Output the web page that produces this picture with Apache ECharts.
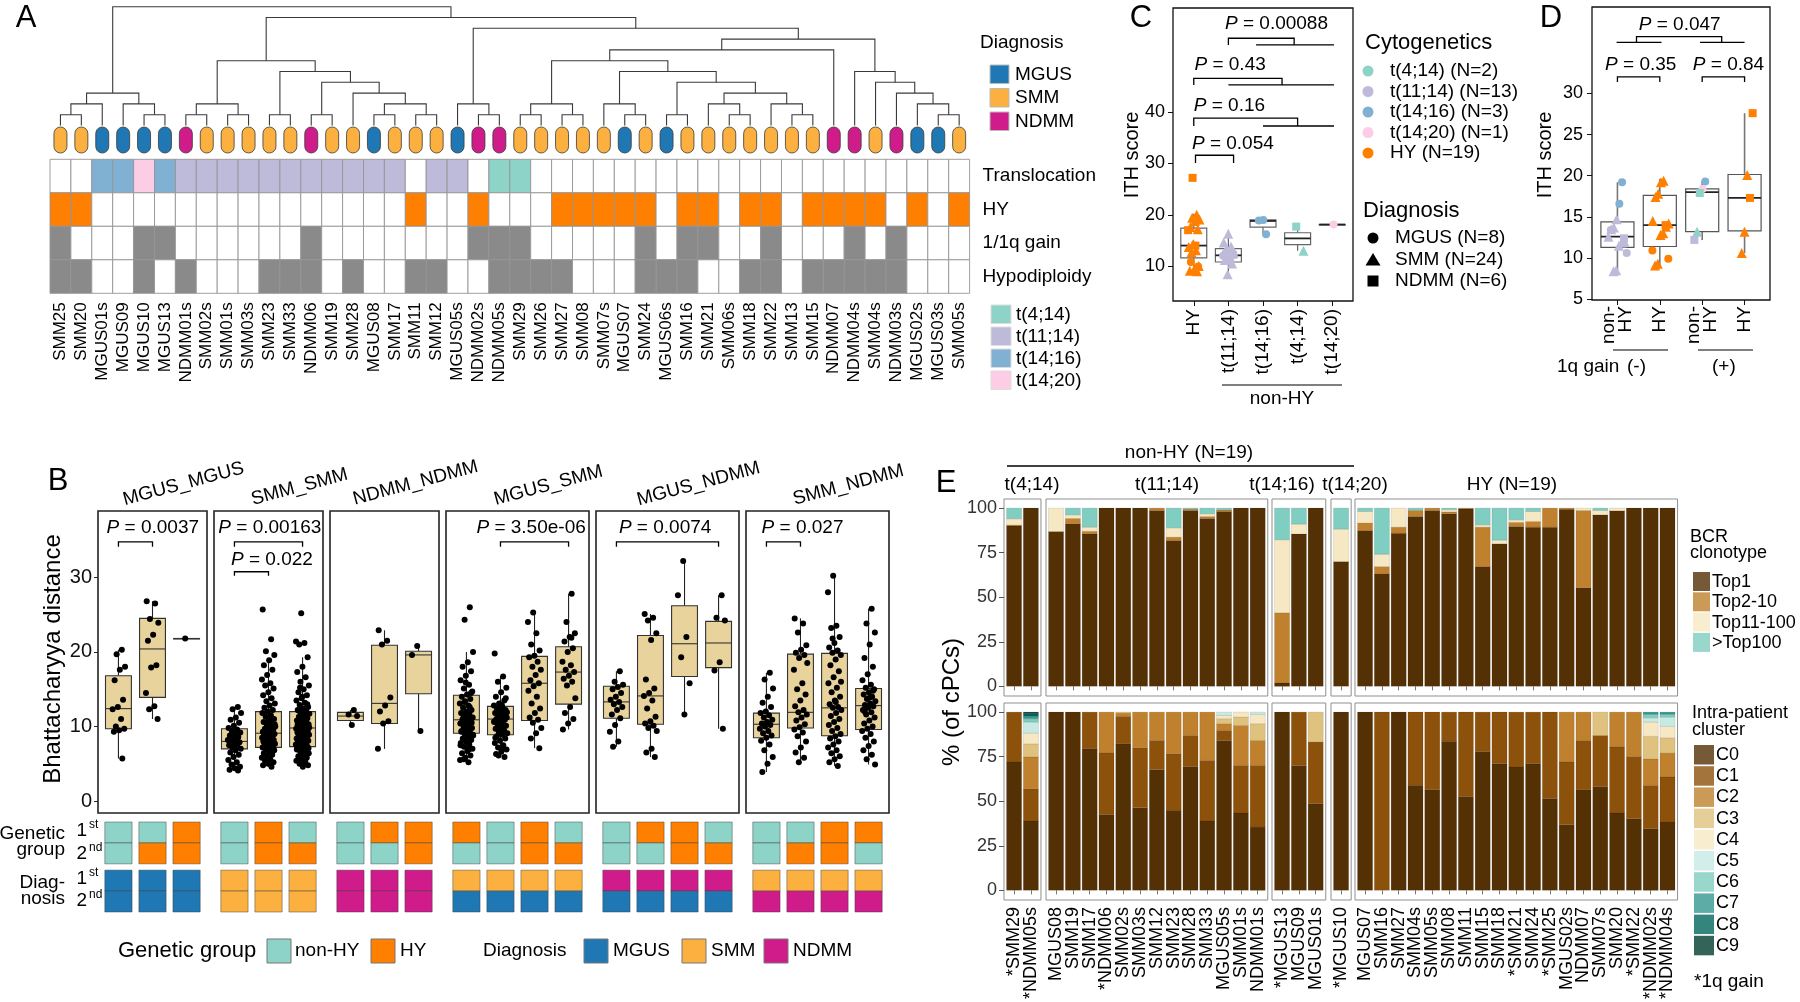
<!DOCTYPE html>
<html>
<head>
<meta charset="utf-8">
<title>Figure</title>
<script src="https://cdn.jsdelivr.net/npm/echarts@6.0.0/dist/echarts.min.js"></script>
<style>
html,body{margin:0;padding:0;background:#ffffff;}
#chart{width:1800px;height:1002px;}
</style>
</head>
<body>
<div id="chart"></div>
<script>
// ======================= DATA =======================
// ---- Panel A ----
const aSamples = ['SMM25','SMM20','MGUS01s','MGUS09','MGUS10','MGUS13','NDMM01s','SMM02s','SMM01s','SMM03s','SMM23','SMM33','NDMM06','SMM19','SMM28','MGUS08','SMM17','SMM11','SMM12','MGUS05s','NDMM02s','NDMM05s','SMM29','SMM26','SMM27','SMM08','SMM07s','MGUS07','SMM24','MGUS06s','SMM16','SMM21','SMM06s','SMM18','SMM22','SMM13','SMM15','NDMM07','NDMM04s','SMM04s','NDMM03s','MGUS02s','MGUS03s','SMM05s'];
const aDiagnosis = ['SMM','SMM','MGUS','MGUS','MGUS','MGUS','NDMM','SMM','SMM','SMM','SMM','SMM','NDMM','SMM','SMM','MGUS','SMM','SMM','SMM','MGUS','NDMM','NDMM','SMM','SMM','SMM','SMM','SMM','MGUS','SMM','MGUS','SMM','SMM','SMM','SMM','SMM','SMM','SMM','NDMM','NDMM','SMM','NDMM','MGUS','MGUS','SMM'];
// 0 none, 1 t(4;14), 2 t(11;14), 3 t(14;16), 4 t(14;20)
const aTranslocation = [0,0,3,3,4,3,2,2,2,2,2,2,2,2,2,2,2,0,2,2,0,1,1,0,0,0,0,0,0,0,0,0,0,0,0,0,0,0,0,0,0,0,0,0];
const aHY = [1,1,0,0,0,0,0,0,0,0,0,0,0,0,0,0,0,1,0,0,1,0,0,0,1,1,1,1,1,0,1,1,0,1,1,0,1,1,1,1,0,1,0,1];
const aGain1q = [1,0,0,0,1,1,0,0,0,0,0,0,1,0,0,0,0,0,0,0,1,1,1,0,0,0,0,0,1,0,1,1,0,0,1,0,0,0,1,0,1,0,0,0];
const aHypodiploidy = [1,1,0,0,1,0,1,0,0,0,1,1,1,0,1,0,0,1,1,0,0,1,1,1,1,0,0,0,1,1,1,0,0,1,1,0,1,1,1,1,1,0,0,0];
const aRowLabels = ['Translocation','HY','1/1q gain','Hypodiploidy'];
const aTransLabels = ['t(4;14)','t(11;14)','t(14;16)','t(14;20)'];
const aMerge = [[-1,-2],[1,-3],[-5,-6],[-4,3],[2,4],
 [-7,-8],[-9,-10],[6,7],[-11,-12],[-13,-14],[-16,-17],[-18,-19],[11,12],[-15,13],[10,14],[9,15],[8,16],
 [-21,-22],[-20,18],
 [-23,-24],[-25,-26],[20,21],[-28,-29],[-27,23],[-30,-31],[-33,-34],[-32,26],[-36,-37],[-35,28],[27,29],[25,30],[24,31],[22,32],[33,-38],
 [-43,-44],[-42,35],[-41,36],[-40,37],[-39,38],
 [34,39],[19,40],[17,41],[5,42]];
const aMergeHeight = [1,2,1,2,3, 1,1,2,1,1,1,1,2,3,4,5,6, 1,2, 1,1,2,1,2,1,1,2,1,2,3,4,5,6,7, 1,2,3,4,5, 8,9,10,11];

// ---- Panel C ----
const cCategories = ['HY','t(11;14)','t(14;16)','t(4;14)','t(14;20)'];
const cBoxStats = [[9.0,11.6,14.0,17.4,20.2],[8.4,10.8,12.1,13.4,16.3],[16.2,17.6,18.8,19.0,19.0],[13.0,14.2,15.4,16.5,17.7],[18.1,18.1,18.1,18.1,18.1]];
const cPoints = [
 [0,20.0,'SMM'],[0,19.4,'SMM'],[0,19.1,'SMM'],[0,18.8,'SMM'],[0,17.6,'SMM'],[0,17.2,'SMM'],[0,14.3,'SMM'],[0,13.7,'SMM'],[0,13.1,'SMM'],[0,12.7,'SMM'],[0,10.0,'SMM'],[0,9.4,'SMM'],[0,9.1,'SMM'],[0,9.0,'SMM'],[0,27.2,'NDMM'],[0,17.0,'NDMM'],[0,14.0,'NDMM'],[0,10.8,'MGUS'],[0,9.9,'MGUS'],
 [1,16.3,'SMM'],[1,14.6,'SMM'],[1,13.8,'SMM'],[1,13.4,'SMM'],[1,12.6,'SMM'],[1,11.8,'SMM'],[1,11.2,'SMM'],[1,10.5,'SMM'],[1,8.4,'SMM'],[1,12.0,'MGUS'],[1,10.9,'MGUS'],[1,12.3,'NDMM'],[1,12.2,'NDMM'],
 [2,19.0,'MGUS'],[2,18.9,'MGUS'],[2,16.2,'MGUS'],
 [3,17.7,'NDMM'],[3,13.0,'SMM'],
 [4,18.1,'MGUS']];
const cSignif = [
 {label:'0.054', x1:1.05, x2:2.15, top:31.6, leg:30.1, lows:[], tx:2.13, ty:33.8},
 {label:'0.16', x1:1, x2:4, top:38.85, leg:37.3, lows:[[3,5.05]], tx:2.03, ty:41.2},
 {label:'0.43', x1:1, x2:3.55, top:46.6, leg:45.3, lows:[[2,5.05]], tx:2.05, ty:49.2},
 {label:'0.00088', x1:2, x2:3.9, top:54.4, leg:53.1, lows:[[2.8,5.05]], tx:3.39, ty:57.2}];
const cLegendCyto = ['t(4;14) (N=2)','t(11;14) (N=13)','t(14;16) (N=3)','t(14;20) (N=1)','HY (N=19)'];
const cLegendDiag = ['MGUS (N=8)','SMM (N=24)','NDMM (N=6)'];

// ---- Panel D ----
const dCategories = ['non-\nHY','HY','non-\nHY','HY'];
const dBoxStats = [[8.4,11.3,12.6,14.4,19.2],[9.1,11.4,14.0,17.6,19.6],[12.2,13.2,18.0,18.4,19.3],[10.6,13.3,17.3,20.15,27.6]];
const dPoints = [
 [0,19.2,'t(14;16)','MGUS'],[0,16.6,'t(14;16)','MGUS'],[0,14.7,'t(11;14)','SMM'],[0,13.7,'t(11;14)','SMM'],[0,13.5,'t(11;14)','SMM'],[0,12.6,'t(11;14)','SMM'],[0,12.0,'t(11;14)','SMM'],[0,11.9,'t(11;14)','SMM'],[0,11.5,'t(11;14)','SMM'],[0,8.5,'t(11;14)','SMM'],[0,8.4,'t(11;14)','SMM'],[0,13.4,'t(11;14)','MGUS'],[0,10.6,'t(11;14)','MGUS'],[0,12.4,'t(11;14)','NDMM'],
 [1,19.4,'HY','SMM'],[1,19.2,'HY','SMM'],[1,17.8,'HY','SMM'],[1,17.4,'HY','SMM'],[1,14.5,'HY','SMM'],[1,14.2,'HY','SMM'],[1,13.8,'HY','SMM'],[1,13.0,'HY','SMM'],[1,12.8,'HY','SMM'],[1,9.3,'HY','SMM'],[1,9.1,'HY','SMM'],[1,10.9,'HY','MGUS'],[1,9.9,'HY','MGUS'],[1,14.0,'HY','NDMM'],
 [2,19.3,'t(14;16)','MGUS'],[2,18.4,'t(14;20)','MGUS'],[2,17.9,'t(4;14)','NDMM'],[2,13.2,'t(4;14)','SMM'],[2,12.2,'t(11;14)','NDMM'],
 [3,27.6,'HY','NDMM'],[3,17.3,'HY','NDMM'],[3,20.1,'HY','SMM'],[3,13.2,'HY','SMM'],[3,10.6,'HY','SMM']];
const dSignif = [
 {label:'0.35', x1:1, x2:2, top:32.0, leg:31.4, lows:[], tx:1.55, ty:33.5},
 {label:'0.84', x1:3, x2:4, top:32.0, leg:31.4, lows:[], tx:3.62, ty:33.5},
 {label:'0.047', x1:1.45, x2:3.46, top:36.9, leg:36.2, lows:[[0.98,2.04],[2.95,4.0]], tx:2.47, ty:38.3}];

// ---- Panel B ----
const bFacets = ['MGUS_MGUS','SMM_SMM','NDMM_NDMM','MGUS_SMM','MGUS_NDMM','SMM_NDMM'];
const bBoxStats = [
 [[5.7,9.7,12.4,16.8,20.3],[11.0,13.9,20.4,24.5,26.8],[21.8,21.8,21.8,21.8,21.8]],
 [[4.1,7.0,8.0,9.7,12.6],[4.6,7.2,9.1,12.0,18.9],[4.6,7.3,9.8,12.0,19.3]],
 [[10.2,10.8,11.4,11.9,12.2],[7.0,10.4,13.1,20.9,22.9],[9.4,14.4,19.6,20.1,20.8]],
 [[5.1,9.1,10.9,14.2,20.0],[5.9,8.9,11.0,12.7,16.7],[7.1,10.8,15.8,19.4,25.3],[9.6,13.0,17.3,20.7,27.8]],
 [[7.3,11.1,13.3,15.4,17.4],[5.9,10.3,14.1,22.2,25.1],[11.6,16.7,21.1,26.2,32.2],[9.7,17.9,21.2,24.1,27.6]],
 [[3.9,8.5,10.3,11.8,17.2],[5.2,9.8,11.9,19.7,24.5],[4.7,8.75,12.5,19.8,30.2],[4.9,9.6,12.8,15.1,25.8]]];
const bPoints = [
 [[20.3,19.7,18.0,17.6,16.2,13.6,12.6,12.3,11.0,10.0,9.7,9.5,9.3,5.7],
  [26.8,26.5,24.4,23.9,22.3,21.5,18.2,17.9,14.5,12.7,12.3,11.0],
  [21.8]],
 [[12.6,12.3,11.8,11.2,10.9,10.5,10.1,9.8,9.6,9.4,9.2,9.0,8.8,8.6,8.4,8.2,8.1,8.0,7.9,7.7,7.5,7.3,7.2,7.0,6.8,6.5,6.2,5.9,5.5,5.2,4.9,4.6,4.4,4.2,4.1,8.5],
  [25.7,21.7,20.1,19.6,18.9,18.2,17.6,16.9,16.3,15.8,15.5,15.1,14.6,14.2,13.8,13.4,13.1,12.8,12.5,12.2,12.0,11.8,11.5,11.3,11.0,10.8,10.6,10.4,10.2,10.0,9.9,9.7,9.6,9.4,9.3,9.2,9.1,9.0,8.9,8.8,8.7,8.6,8.5,8.4,8.3,8.2,8.1,8.0,7.9,7.8,7.7,7.6,7.5,7.4,7.3,7.2,7.1,7.0,6.8,6.6,6.4,6.2,6.0,5.8,5.6,5.4,5.2,5.0,4.8,4.6,9.5,10.3,11.1,8.95,7.25],
  [25.2,21.4,21.2,21.0,19.3,18.0,17.3,16.6,16.0,15.5,15.0,14.6,14.2,13.8,13.5,13.2,12.9,12.6,12.4,12.2,12.0,11.9,11.7,11.5,11.3,11.1,10.9,10.8,10.6,10.4,10.3,10.1,10.0,9.9,9.8,9.7,9.6,9.5,9.4,9.3,9.2,9.1,9.0,8.9,8.8,8.7,8.6,8.5,8.4,8.3,8.2,8.1,8.0,7.9,7.8,7.7,7.6,7.5,7.4,7.3,7.2,7.0,6.8,6.6,6.4,6.2,6.0,5.8,5.6,5.4,5.2,5.0,4.8,4.6,10.2,10.7,11.4,9.85,9.75,12.1,13.0,14.0,6.9,5.3,15.2,7.1]],
 [[12.2,11.6,11.4,10.2],
  [22.9,21.5,21.0,13.9,12.8,12.0,10.7,10.4,7.0],
  [20.8,19.6,9.4]],
 [[26.0,24.3,20.0,18.6,18.0,17.4,16.8,16.2,15.6,15.1,14.7,14.3,14.0,13.7,13.4,13.1,12.8,12.5,12.2,12.0,11.8,11.6,11.4,11.2,11.0,10.9,10.8,10.6,10.4,10.2,10.0,9.8,9.6,9.4,9.2,9.0,8.8,8.6,8.4,8.2,8.0,7.8,7.6,7.3,7.0,6.7,6.4,6.1,5.8,5.5,5.2,11.1,10.5,9.9,9.3,12.6,13.3,8.9,10.7,11.7,14.5,15.9,7.5,6.9,5.6],
  [19.8,16.7,16.0,15.2,14.6,14.0,13.5,13.1,12.8,12.6,12.4,12.2,12.0,11.8,11.6,11.4,11.2,11.1,11.0,10.9,10.8,10.7,10.5,10.3,10.1,9.9,9.7,9.5,9.3,9.1,8.9,8.7,8.4,8.1,7.8,7.5,7.2,6.9,6.6,6.3,5.9,11.5,10.6,10.0,12.3,13.8,9.2,8.5,7.0,6.1,11.9,12.9],
  [25.3,24.0,22.5,21.0,20.2,19.5,19.3,18.7,18.0,17.6,16.9,16.2,15.8,15.4,14.8,14.0,13.1,12.4,11.8,11.2,10.9,10.5,9.8,9.1,8.4,7.1],
  [27.8,24.0,22.5,22.0,21.4,20.5,20.0,18.7,18.2,17.6,17.3,16.8,16.4,16.0,15.5,13.8,12.6,11.8,11.0,10.4,9.6,21.9]],
 [[17.4,16.0,15.6,15.3,15.0,14.5,14.0,13.6,13.3,13.0,12.6,12.2,11.6,11.1,10.2,9.3,8.0,7.3],
  [25.1,24.6,24.2,22.5,21.6,16.3,15.1,14.5,14.1,13.5,12.4,11.3,10.7,10.4,10.1,9.8,9.4,7.0,6.5,5.9],
  [32.2,27.6,22.0,19.3,15.8,11.6],
  [27.6,24.6,24.2,18.6,17.5,9.7]],
 [[17.2,16.3,15.1,14.0,13.2,12.6,12.0,11.8,11.5,11.2,10.9,10.6,10.4,10.2,10.0,9.7,9.4,9.1,8.8,8.5,8.1,7.6,6.8,5.9,5.0,3.9],
  [24.5,23.8,22.6,20.9,20.3,19.9,19.6,19.2,17.6,15.8,15.0,14.3,13.5,12.7,12.2,11.9,11.6,11.2,10.8,10.3,9.9,9.6,9.2,8.7,8.0,7.2,6.5,5.8,5.2,18.5],
  [30.2,28.0,23.5,23.2,22.0,21.2,20.6,20.2,19.9,19.6,19.0,18.2,17.4,16.6,15.8,15.2,14.6,14.0,13.5,13.0,12.6,12.5,12.2,11.8,11.4,11.0,10.6,10.2,9.8,9.4,9.0,8.7,8.4,8.0,7.6,7.2,6.8,6.4,6.0,5.6,5.2,4.7,21.8,16.0,13.3],
  [25.8,23.8,22.6,21.0,19.2,18.0,17.0,16.2,15.6,15.2,15.0,14.6,14.3,14.0,13.7,13.4,13.1,12.9,12.7,12.5,12.2,11.9,11.6,11.2,10.8,10.4,10.0,9.7,9.4,9.0,8.5,8.0,7.4,6.8,6.2,5.6,4.9,13.9,12.0,14.8]]];
const bGenetic = [
 [['n','n'],['n','h'],['h','h']],
 [['n','n'],['h','h'],['n','h']],
 [['n','n'],['h','n'],['h','h']],
 [['h','n'],['n','n'],['h','h'],['n','h']],
 [['n','n'],['h','n'],['h','h'],['n','h']],
 [['n','n'],['n','h'],['h','h'],['h','n']]];
const bDiagPairs = [['MGUS','MGUS'],['SMM','SMM'],['NDMM','NDMM'],['SMM','MGUS'],['NDMM','MGUS'],['SMM','NDMM']];
const bSignif = [
 {f:0, label:'0.0037', x1:1, x2:2, top:34.75, leg:34.1, lows:[], tx:2.01, ty:36.7},
 {f:1, label:'0.00163', x1:1, x2:3, top:34.75, leg:34.1, lows:[], tx:2.04, ty:36.7},
 {f:1, label:'0.022', x1:1, x2:2, top:30.75, leg:30.2, lows:[], tx:2.1, ty:32.3},
 {f:3, label:'3.50e-06', x1:2, x2:4, top:34.75, leg:34.1, lows:[], tx:2.9, ty:36.7},
 {f:4, label:'0.0074', x1:1, x2:4, top:34.75, leg:34.1, lows:[], tx:2.43, ty:36.7},
 {f:5, label:'0.027', x1:1, x2:2, top:34.75, leg:34.1, lows:[], tx:2.06, ty:36.7}];

// ---- Panel E ----
const eGroups = ['t(4;14)','t(11;14)','t(14;16)','t(14;20)','HY (N=19)'];
const eSamples = [
 ['*SMM29','*NDMM05s'],
 ['MGUS08','SMM19','SMM17','*NDMM06','SMM02s','SMM03s','SMM12','SMM23','SMM28','SMM33','MGUS05s','SMM01s','NDMM01s'],
 ['*MGUS13','MGUS09','MGUS01s'],
 ['*MGUS10'],
 ['MGUS07','SMM16','SMM27','SMM04s','SMM05s','SMM08','SMM11','SMM15','SMM18','*SMM21','SMM24','*SMM25','MGUS02s','NDMM07','SMM07s','SMM20','*SMM22','*NDMM02s','*NDMM04s']];
// BCR clonotype % : [Top1, Top2-10, Top11-100, >Top100]
const eBcr = [
 [[90,0.5,3.5,6],[100,0,0,0]],
 [[86.9,0,13.1,0],[91.2,3,2,3.8],[85.5,1.5,2.3,10.7],[100,0,0,0],[100,0,0,0],[100,0,0,0],[98.7,1.3,0,0],[81.8,1.9,5.2,11.1],[98.7,0.7,0,0.6],[94.2,1.1,1.5,3.2],[98.1,0.9,0,1.0],[100,0,0,0],[100,0,0,0]],
 [[1.9,39.4,40.9,17.8],[85.5,0,5.5,9.0],[100,0,0,0]],
 [[70,0,18.2,11.8]],
 [[87.4,4.2,6.5,1.9],[63,4.2,6.9,25.9],[85.9,3.4,10.7,0],[95.3,3.4,0,1.3],[98.7,1.3,0,0],[96.8,1.1,1.2,0.9],[99.6,0.4,0,0],[67.2,22.1,1.3,9.4],[80,0,2,18],[89.7,2.3,1.4,6.6],[89.3,3.2,5.6,1.9],[89.3,10.7,0,0],[99.3,0.7,0,0],[55.3,43.4,1.3,0],[96.2,0,2.5,1.3],[98.5,0,1.5,0],[100,0,0,0],[100,0,0,0],[100,0,0,0]]];
// Intra-patient cluster % : [C0..C9]
const eCluster = [
 [[72,28],[38.9,18.1,17.8,7.4,6.0,6.2,1.9,1.3,1.5,0.9]],
 [[100],[100],[79.4,20.6],[42.6,34.4,23.0],[82.2,15.4,1.8,0.6],[46.4,33.6,20.0],[67.7,16.4,15.9],[44.9,31.7,23.4],[69.5,17.4,13.1],[38.9,34.0,27.1],[84.1,5.6,3.8,2.8,1.8,1.9],[43.4,26.7,22.4,4.7,2.8],[35.5,34.6,14.0,9.4,5.2,1.3]],
 [[100],[70.1,29.9],[48.6,34.6,0,16.8]],
 [[100]],
 [[100],[0,100],[100],[58.9,41.1],[56.4,43.6],[83.7,16.3],[52.7,47.3],[77.9,22.1],[71,29],[69.2,30.8],[71,29],[51.4,48.6],[37,35,28],[56.4,27.7,15.9],[58.3,28.6,0,13.1],[43.4,37,19.6],[40.2,34.9,24.9],[34.6,24.3,14.9,12.6,8,2.4,1.9,1.3],[38.3,25.3,13.4,8.6,6.4,5.2,1.5,1.3]]];
const eBcrLabels = ['Top1','Top2-10','Top11-100','>Top100'];
const eClusterLabels = ['C0','C1','C2','C3','C4','C5','C6','C7','C8','C9'];
const eTicks = [0,25,50,75,100];

// ======================= STYLE =======================
const FONT = '"Liberation Sans", Arial, Helvetica, sans-serif';
const DIAG_COL = {MGUS:'#1f78b4', SMM:'#fbb040', NDMM:'#d01c8b'};
const TRANS_COL = ['#ffffff','#8dd3c7','#bebada','#80b1d3','#fccde5'];
const HY_COL = '#ff7f00', GAIN_COL = '#8a8a8a';
const CYTO_COL = {'t(4;14)':'#8dd3c7','t(11;14)':'#bebada','t(14;16)':'#80b1d3','t(14;20)':'#fccde5','HY':'#ff7f00'};
const GEN_COL = {n:'#8dd3c7', h:'#ff7f00'};
const SYM = {MGUS:'circle', SMM:'triangle', NDMM:'rect'};
const SYM_SIZE = {MGUS:8, SMM:10, NDMM:8};
const BCR_COL = ['#543005','#bf812d','#f6e8c3','#80cdc1'];
const CLU_COL = ['#543005','#8c510a','#bf812d','#dfc27d','#f6e8c3','#c7eae5','#80cdc1','#35978f','#01665e','#003c30'];

// ======================= BUILD =======================
const grids = [], xAxes = [], yAxes = [], series = [], gfx = [];
function hiddenValue(min, max, extra) {
  return Object.assign({type:'value', min:min, max:max, axisLine:{show:false}, axisTick:{show:false}, axisLabel:{show:false}, splitLine:{show:false}}, extra || {});
}
function addGrid(rect, xa, ya) {
  const gi = grids.length;
  grids.push(Object.assign({containLabel:false, backgroundColor:'transparent'}, rect));
  xa.gridIndex = gi; ya.gridIndex = gi;
  xAxes.push(xa); yAxes.push(ya);
  return gi;
}
function range(n) { const r = []; for (let i = 1; i <= n; i++) r.push(i); return r; }
function jit(i, w) { return (((((i + 1) * 0.6180339887) + 0.13) % 1) - 0.5) * 2 * w; }

function makeBoxRender(boxes, hw, st) {
  return function (params, api) {
    const i = params.dataIndex, b = boxes[i], x = i + 1;
    const c = (xx, yy) => api.coord([xx, yy]);
    const tl = c(x - hw, b[3]), br = c(x + hw, b[1]);
    const m1 = c(x - hw, b[2]), m2 = c(x + hw, b[2]);
    const w1 = c(x, b[4]), w2 = c(x, b[3]), w3 = c(x, b[1]), w4 = c(x, b[0]);
    return {type:'group', children:[
      {type:'line', shape:{x1:w1[0], y1:w1[1], x2:w2[0], y2:w2[1]}, style:{stroke:st.whisker, lineWidth:st.wl}},
      {type:'line', shape:{x1:w3[0], y1:w3[1], x2:w4[0], y2:w4[1]}, style:{stroke:st.whisker, lineWidth:st.wl}},
      {type:'rect', shape:{x:tl[0], y:tl[1], width:br[0] - tl[0], height:Math.max(br[1] - tl[1], 0.5)}, style:{fill:st.fill, stroke:st.stroke, lineWidth:st.bl}},
      {type:'line', shape:{x1:m1[0], y1:m1[1], x2:m2[0], y2:m2[1]}, style:{stroke:st.median, lineWidth:st.ml}}
    ]};
  };
}
function makeSigRender(sigs, fs) {
  return function (params, api) {
    const s = sigs[params.dataIndex];
    const c = (x, y) => api.coord([x, y]);
    const kids = [{type:'polyline', shape:{points:[c(s.x1, s.leg), c(s.x1, s.top), c(s.x2, s.top), c(s.x2, s.leg)]}, style:{stroke:'#000', lineWidth:1.3, fill:'none'}}];
    s.lows.forEach(l => { const a = c(l[0], s.leg), b = c(l[1], s.leg); kids.push({type:'line', shape:{x1:a[0], y1:a[1], x2:b[0], y2:b[1]}, style:{stroke:'#000', lineWidth:1.3}}); });
    const t = c(s.tx, s.ty);
    kids.push({type:'text', x:t[0], y:t[1], style:{text:'{i|P} = ' + s.label, fontSize:fs, fontFamily:FONT, fill:'#000', align:'center', verticalAlign:'middle',
      rich:{i:{fontStyle:'italic', fontSize:fs, fontFamily:FONT, fill:'#000'}}}});
    return {type:'group', children:kids};
  };
}

// ---------------- Panel A ----------------
const nodeX = [];
aMerge.forEach((m, k) => { const xs = m.map(c => c < 0 ? -c : nodeX[c - 1]); nodeX.push((xs[0] + xs[1]) / 2); });
const gDen = addGrid({left:50, top:6.7, width:919.6, height:118.8}, hiddenValue(0.5, 44.5), hiddenValue(0, 11));
series.push({type:'custom', xAxisIndex:gDen, yAxisIndex:gDen, silent:true, data:aMerge.map((m, k) => [nodeX[k], aMergeHeight[k]]),
  renderItem: function (params, api) {
    const k = params.dataIndex, m = aMerge[k], h = aMergeHeight[k];
    const ch = m.map(c => c < 0 ? [-c, 0] : [nodeX[c - 1], aMergeHeight[c - 1]]);
    const pts = [api.coord(ch[0]), api.coord([ch[0][0], h]), api.coord([ch[1][0], h]), api.coord(ch[1])];
    return {type:'polyline', shape:{points:pts}, style:{stroke:'#3a3a3a', lineWidth:1.1, fill:'none'}};
  }});
const gPill = addGrid({left:50, top:127, width:919.6, height:26}, hiddenValue(0.5, 44.5), hiddenValue(0, 1));
series.push({type:'custom', xAxisIndex:gPill, yAxisIndex:gPill, silent:true, data:aDiagnosis.map((d, i) => [i + 1, 0.5]),
  renderItem: function (params, api) {
    const i = params.dataIndex, t = api.coord([i + 1, 1]), b = api.coord([i + 1, 0]);
    return {type:'rect', shape:{x:t[0] - 6.5, y:t[1], width:13, height:b[1] - t[1], r:6.5}, style:{fill:DIAG_COL[aDiagnosis[i]], stroke:'#3a3a3a', lineWidth:0.8}};
  }});
const heatCells = [];
aSamples.forEach((s, i) => { for (let r = 0; r < 4; r++) heatCells.push([i + 1, r]); });
function heatColor(i, r) {
  if (r === 0) return TRANS_COL[aTranslocation[i]];
  if (r === 1) return aHY[i] ? HY_COL : '#ffffff';
  if (r === 2) return aGain1q[i] ? GAIN_COL : '#ffffff';
  return aHypodiploidy[i] ? GAIN_COL : '#ffffff';
}
const gHeat = addGrid({left:50, top:159.3, width:919.6, height:134},
  {type:'value', min:0.5, max:44.5, axisLine:{show:false}, axisTick:{show:false}, splitLine:{show:false},
   axisLabel:{show:true, showMinLabel:true, showMaxLabel:true, hideOverlap:false, customValues:range(44), formatter:v => aSamples[Math.round(v) - 1], rotate:90, fontSize:17, margin:9, color:'#000', fontFamily:FONT}},
  {type:'value', min:0, max:4, inverse:true, position:'right', axisLine:{show:false}, axisTick:{show:false}, splitLine:{show:false},
   axisLabel:{show:true, showMinLabel:true, showMaxLabel:true, customValues:[0.5,1.5,2.5,3.5], formatter:v => aRowLabels[Math.floor(v)], fontSize:19, margin:13, color:'#000', fontFamily:FONT}});
series.push({type:'custom', xAxisIndex:gHeat, yAxisIndex:gHeat, silent:true, data:heatCells,
  renderItem: function (params, api) {
    const d = heatCells[params.dataIndex], i = d[0], r = d[1];
    const a = api.coord([i - 0.5, r]), b = api.coord([i + 0.5, r + 1]);
    return {type:'rect', shape:{x:a[0], y:a[1], width:b[0] - a[0], height:b[1] - a[1]}, style:{fill:heatColor(i - 1, r), stroke:'#959595', lineWidth:0.9}};
  }});

// ---------------- Panel C ----------------
const cCatColors = ['#ff7f00','#bebada','#80b1d3','#8dd3c7','#fccde5'];
const gC = addGrid({left:1173, top:8, width:180, height:293, show:true, borderColor:'#111', borderWidth:1.3},
  {type:'value', min:0.4, max:5.6, axisLine:{show:false}, splitLine:{show:false},
   axisTick:{show:true, customValues:range(5), length:5, lineStyle:{color:'#111'}},
   axisLabel:{show:true, showMinLabel:true, showMaxLabel:true, hideOverlap:false, customValues:range(5), formatter:v => cCategories[Math.round(v) - 1], rotate:90, fontSize:19, margin:8, color:'#000', fontFamily:FONT}},
  {type:'value', min:3.2, max:60.3, axisLine:{show:false}, splitLine:{show:false},
   axisTick:{show:true, customValues:[10,20,30,40], length:5, lineStyle:{color:'#111'}},
   axisLabel:{show:true, customValues:[10,20,30,40], fontSize:18, margin:8, color:'#000', fontFamily:FONT}});
series.push({type:'custom', xAxisIndex:gC, yAxisIndex:gC, silent:true, z:2, data:cBoxStats.map((b, i) => [i + 1, b[2]]),
  renderItem:makeBoxRender(cBoxStats, 0.375, {fill:'#ffffff', stroke:'#666', bl:1.2, whisker:'#666', wl:1.2, median:'#222', ml:1.8})});
series.push({type:'scatter', xAxisIndex:gC, yAxisIndex:gC, silent:true, z:3,
  data:cPoints.map((p, i) => ({value:[p[0] + 1 + jit(i, 0.17), p[1]], symbol:SYM[p[2]], symbolSize:SYM_SIZE[p[2]], itemStyle:{color:cCatColors[p[0]], opacity:1}}))});
series.push({type:'custom', xAxisIndex:gC, yAxisIndex:gC, silent:true, z:4, data:cSignif.map((s, i) => [s.tx, s.ty]), renderItem:makeSigRender(cSignif, 19)});

// ---------------- Panel D ----------------
const gD = addGrid({left:1592, top:7, width:178, height:293, show:true, borderColor:'#111', borderWidth:1.3},
  {type:'value', min:0.4, max:4.6, axisLine:{show:false}, splitLine:{show:false},
   axisTick:{show:true, customValues:range(4), length:5, lineStyle:{color:'#111'}},
   axisLabel:{show:true, showMinLabel:true, showMaxLabel:true, hideOverlap:false, customValues:range(4), formatter:v => dCategories[Math.round(v) - 1], rotate:90, fontSize:19, lineHeight:17, margin:6, color:'#000', fontFamily:FONT}},
  {type:'value', min:4.9, max:40.5, axisLine:{show:false}, splitLine:{show:false},
   axisTick:{show:true, customValues:[5,10,15,20,25,30], length:5, lineStyle:{color:'#111'}},
   axisLabel:{show:true, showMinLabel:true, customValues:[5,10,15,20,25,30], fontSize:18, margin:9, color:'#000', fontFamily:FONT}});
series.push({type:'custom', xAxisIndex:gD, yAxisIndex:gD, silent:true, z:2, data:dBoxStats.map((b, i) => [i + 1, b[2]]),
  renderItem:makeBoxRender(dBoxStats, 0.39, {fill:'#ffffff', stroke:'#555', bl:1.2, whisker:'#777', wl:1.6, median:'#222', ml:1.8})});
series.push({type:'scatter', xAxisIndex:gD, yAxisIndex:gD, silent:true, z:3,
  data:dPoints.map((p, i) => ({value:[p[0] + 1 + jit(i * 3, 0.22), p[1]], symbol:SYM[p[3]], symbolSize:SYM_SIZE[p[3]], itemStyle:{color:CYTO_COL[p[2]], opacity:1}}))});
series.push({type:'custom', xAxisIndex:gD, yAxisIndex:gD, silent:true, z:4, data:dSignif.map(s => [s.tx, s.ty]), renderItem:makeSigRender(dSignif, 19)});

// ---------------- Panel B ----------------
const bLeft = [98, 214, 330, 446, 596, 746];
const bWidth = [109, 109, 109, 143, 143, 143];
bFacets.forEach((name, f) => {
  const n = bBoxStats[f].length;
  const yax = f === 0 ?
    {type:'value', min:-1.6, max:38.9, axisLine:{show:false}, splitLine:{show:false},
     axisTick:{show:true, customValues:[0,10,20,30], length:4, lineStyle:{color:'#222'}},
     axisLabel:{show:true, showMinLabel:true, customValues:[0,10,20,30], fontSize:20, margin:6, color:'#111', fontFamily:FONT}} :
    hiddenValue(-1.6, 38.9);
  const g = addGrid({left:bLeft[f], top:511, width:bWidth[f], height:302, show:true, borderColor:'#222', borderWidth:1.6}, hiddenValue(0.4, n + 0.6), yax);
  series.push({type:'custom', xAxisIndex:g, yAxisIndex:g, silent:true, z:2, data:bBoxStats[f].map((b, i) => [i + 1, b[2]]),
    renderItem:makeBoxRender(bBoxStats[f], 0.38, {fill:'#e8d39c', stroke:'#333', bl:1.1, whisker:'#222', wl:1.1, median:'#333', ml:1.1})});
  const pts = [];
  bPoints[f].forEach((arr, c) => arr.forEach((v, i) => pts.push([c + 1 + jit(i + c * 7, 0.2), v])));
  series.push({type:'scatter', xAxisIndex:g, yAxisIndex:g, silent:true, z:3, symbol:'circle', symbolSize:6, itemStyle:{color:'#000', opacity:1}, data:pts});
  const sigs = bSignif.filter(s => s.f === f);
  if (sigs.length) series.push({type:'custom', xAxisIndex:g, yAxisIndex:g, silent:true, z:4, data:sigs.map(s => [s.tx, s.ty]), renderItem:makeSigRender(sigs, 19)});
  const ga = addGrid({left:bLeft[f], top:822, width:bWidth[f], height:90}, hiddenValue(0.4, n + 0.6), hiddenValue(0, 4.3, {inverse:true}));
  const cells = [];
  for (let c = 0; c < n; c++) { cells.push([c + 1, 0, GEN_COL[bGenetic[f][c][0]]]); cells.push([c + 1, 1, GEN_COL[bGenetic[f][c][1]]]);
    cells.push([c + 1, 2.3, DIAG_COL[bDiagPairs[f][0]]]); cells.push([c + 1, 3.3, DIAG_COL[bDiagPairs[f][1]]]); }
  series.push({type:'custom', xAxisIndex:ga, yAxisIndex:ga, silent:true, data:cells.map(c => [c[0], c[1]]),
    renderItem: function (params, api) {
      const d = cells[params.dataIndex];
      const a = api.coord([d[0] - 0.4, d[1]]), b = api.coord([d[0] + 0.4, d[1] + 1]);
      return {type:'rect', shape:{x:a[0], y:a[1], width:b[0] - a[0], height:b[1] - a[1]}, style:{fill:d[2], stroke:'rgba(60,60,60,0.45)', lineWidth:1}};
    }});
});

// ---------------- Panel E ----------------
const eLeft = [1004, 1046, 1272, 1331, 1355];
const Y_MIN_E = -5.4, Y_MAX_E = 105.1;
eSamples.forEach((names, f) => {
  const n = names.length, w = (n + 0.2) * 16.8;
  [0, 1].forEach(p => {
    const top = p === 0 ? 499 : 703;
    const xa = {type:'value', min:0.4, max:n + 0.6, axisLine:{show:false}, splitLine:{show:false},
      axisTick:{show:true, customValues:range(n), length:4, lineStyle:{color:'#777'}},
      axisLabel:{show:false}};
    const ya = f === 0 ?
      {type:'value', min:Y_MIN_E, max:Y_MAX_E, axisLine:{show:false}, splitLine:{show:false},
       axisTick:{show:true, customValues:eTicks, length:5, lineStyle:{color:'#555'}},
       axisLabel:{show:true, showMinLabel:true, showMaxLabel:true, customValues:eTicks, fontSize:18, margin:7, color:'#333', fontFamily:FONT}} :
      hiddenValue(Y_MIN_E, Y_MAX_E);
    const g = addGrid({left:eLeft[f], top:top, width:w, height:197, show:true, borderColor:'#8f8f8f', borderWidth:1}, xa, ya);
    const vals = p === 0 ? eBcr[f] : eCluster[f];
    const cols = p === 0 ? BCR_COL : CLU_COL;
    series.push({type:'custom', xAxisIndex:g, yAxisIndex:g, silent:true, data:vals.map((v, i) => [i + 1, 50]),
      renderItem: function (params, api) {
        const i = params.dataIndex, v = vals[i]; let cum = 0; const kids = [];
        v.forEach((s, j) => { if (s > 0) { const a = api.coord([i + 1 - 0.45, cum + s]), b = api.coord([i + 1 + 0.45, cum]);
          kids.push({type:'rect', shape:{x:a[0], y:a[1], width:b[0] - a[0], height:b[1] - a[1]}, style:{fill:cols[j], stroke:'rgba(40,20,0,0.25)', lineWidth:0.4}}); cum += s; } });
        if (p === 1) {
          const base = api.coord([i + 1, Y_MIN_E]);
          kids.push({type:'text', x:base[0], y:base[1] + 7, rotation:Math.PI / 2,
            style:{text:names[i], fontSize:18, fontFamily:FONT, fill:'#000', align:'right', verticalAlign:'middle'}});
        }
        return {type:'group', children:kids};
      }});
  });
});

// ---------------- Graphic texts / legends ----------------
function txt(s, x, y, o) {
  o = o || {};
  const st = {text:s, fontSize:o.size || 19, fontFamily:FONT, fill:o.color || '#000', align:o.align || 'left', verticalAlign:o.va || 'middle'};
  return {type:'text', x:x, y:y, rotation:o.rot || 0, silent:true, z:100, style:st};
}
function rectG(x, y, w, h, fill, stroke, lw, op) {
  return {type:'rect', silent:true, z:100, shape:{x:x, y:y, width:w, height:h}, style:{fill:fill, stroke:stroke || null, lineWidth:lw || 0, opacity:op == null ? 1 : op}};
}
function lineG(x1, y1, x2, y2, c, lw) { return {type:'line', silent:true, z:100, shape:{x1:x1, y1:y1, x2:x2, y2:y2}, style:{stroke:c || '#000', lineWidth:lw || 1}}; }
const ROT90 = Math.PI / 2;

gfx.push(txt('A', 26, 18, {size:31, align:'center'}));
gfx.push(txt('B', 58, 481, {size:31, align:'center'}));
gfx.push(txt('C', 1141, 18, {size:31, align:'center'}));
gfx.push(txt('D', 1551, 18, {size:31, align:'center'}));
gfx.push(txt('E', 946, 483, {size:31, align:'center'}));

gfx.push(txt('Diagnosis', 980, 43, {size:19}));
['MGUS','SMM','NDMM'].forEach((d, i) => {
  const y = [65, 88.5, 112][i];
  gfx.push(rectG(990, y, 19, 18.5, DIAG_COL[d], '#bbb', 1));
  gfx.push(txt(d, 1015, y + 9.5, {size:19}));
});
aTransLabels.forEach((t, i) => {
  const y = 305 + i * 22;
  gfx.push(rectG(991, y, 20, 18.5, TRANS_COL[i + 1], '#ddd', 1));
  gfx.push(txt(t, 1016, y + 9.5, {size:19}));
});

gfx.push(txt('ITH score', 1132, 155, {size:20, align:'center', rot:ROT90}));
gfx.push(lineG(1222, 385, 1342, 385, '#000', 1.2));
gfx.push(txt('non-HY', 1282, 399, {size:19, align:'center'}));
gfx.push(txt('Cytogenetics', 1365, 43, {size:22}));
cLegendCyto.forEach((t, i) => {
  const y = [71, 91.5, 112, 132.5, 153][i];
  gfx.push({type:'circle', silent:true, z:100, shape:{cx:1368, cy:y, r:5.5}, style:{fill:['#8dd3c7','#bebada','#80b1d3','#fccde5','#ff7f00'][i]}});
  gfx.push(txt(t, 1390, y, {size:19}));
});
gfx.push(txt('Diagnosis', 1363, 211, {size:22}));
cLegendDiag.forEach((t, i) => {
  const y = [238, 259.5, 281][i];
  if (i === 0) gfx.push({type:'circle', silent:true, z:100, shape:{cx:1373, cy:y, r:5.5}, style:{fill:'#000'}});
  if (i === 1) gfx.push({type:'polygon', silent:true, z:100, shape:{points:[[1373, y - 6.5], [1380.5, y + 6], [1365.5, y + 6]]}, style:{fill:'#000'}});
  if (i === 2) gfx.push(rectG(1367.5, y - 5.5, 11, 11, '#000'));
  gfx.push(txt(t, 1395, y, {size:19}));
});

gfx.push(txt('ITH score', 1545, 155, {size:20, align:'center', rot:ROT90}));
gfx.push(lineG(1613, 350, 1668, 350, '#000', 1.2));
gfx.push(lineG(1698, 350, 1753, 350, '#000', 1.2));
gfx.push(txt('1q gain', 1557, 367, {size:19}));
gfx.push(txt('(-)', 1627, 367, {size:19}));
gfx.push(txt('(+)', 1712, 367, {size:19}));

gfx.push(txt('Bhattacharyya distance', 53, 659, {size:24, align:'center', rot:ROT90}));
const bStripX = [183.5, 299.5, 415.5, 548.5, 698.5, 848.5];
const bStripY = [484, 487, 483, 485.5, 484, 485];
bFacets.forEach((name, f) => gfx.push(txt(name, bStripX[f], bStripY[f], {size:19, align:'center', rot:15 * Math.PI / 180})));
gfx.push(txt('Genetic', 65, 834, {size:19, align:'right'}));
gfx.push(txt('group', 65, 850, {size:19, align:'right'}));
gfx.push(txt('Diag-', 65, 883, {size:19, align:'right'}));
gfx.push(txt('nosis', 65, 899, {size:19, align:'right'}));
[[831, '1', 'st'], [854, '2', 'nd'], [879, '1', 'st'], [901, '2', 'nd']].forEach(r => {
  gfx.push(txt(r[1], 87, r[0], {size:19, align:'right'}));
  gfx.push(txt(r[2], 89, r[0] - 6, {size:12}));
});
gfx.push(txt('Genetic group', 118, 951, {size:22}));
gfx.push(rectG(267, 939, 24, 24, GEN_COL.n, '#777', 1));
gfx.push(txt('non-HY', 295, 951, {size:19}));
gfx.push(rectG(371, 939, 24, 24, GEN_COL.h, '#777', 1));
gfx.push(txt('HY', 400, 951, {size:19}));
gfx.push(txt('Diagnosis', 483, 951, {size:19}));
[['MGUS', 584, 613], ['SMM', 682, 711], ['NDMM', 764, 793]].forEach(d => {
  gfx.push(rectG(d[1], 939, 24, 24, DIAG_COL[d[0]], '#777', 1));
  gfx.push(txt(d[0], d[2], 951, {size:19}));
});

gfx.push(txt('non-HY (N=19)', 1189, 453, {size:19, align:'center'}));
gfx.push(lineG(1007, 466, 1354, 466, '#000', 1.3));
[1032, 1167, 1282, 1355, 1512].forEach((x, i) => gfx.push(txt(eGroups[i], x, 485, {size:19, align:'center'})));
gfx.push(txt('% (of cPCs)', 952, 702, {size:24, align:'center', rot:ROT90}));
gfx.push(txt('BCR', 1690, 537, {size:18}));
gfx.push(txt('clonotype', 1690, 553, {size:18}));
eBcrLabels.forEach((t, i) => {
  const y = 572 + i * 20.3;
  gfx.push(rectG(1693, y, 17, 19, BCR_COL[i], null, 0, 0.8));
  gfx.push(txt(t, 1712, y + 10, {size:18}));
});
gfx.push(txt('Intra-patient', 1692, 713, {size:18}));
gfx.push(txt('cluster', 1692, 730, {size:18}));
eClusterLabels.forEach((t, i) => {
  const y = 745 + i * 21.2;
  gfx.push(rectG(1694, y, 20, 19.5, CLU_COL[i], null, 0, 0.8));
  gfx.push(txt(t, 1716, y + 10, {size:18}));
});
gfx.push(txt('*1q gain', 1694, 982, {size:19}));

const chart = echarts.init(document.getElementById('chart'), null, {renderer:'canvas', width:1800, height:1002});
chart.setOption({
  animation:false,
  backgroundColor:'#ffffff',
  textStyle:{fontFamily:FONT, color:'#000'},
  grid:grids, xAxis:xAxes, yAxis:yAxes, series:series,
  graphic:{elements:gfx}
});
</script>
</body>
</html>
